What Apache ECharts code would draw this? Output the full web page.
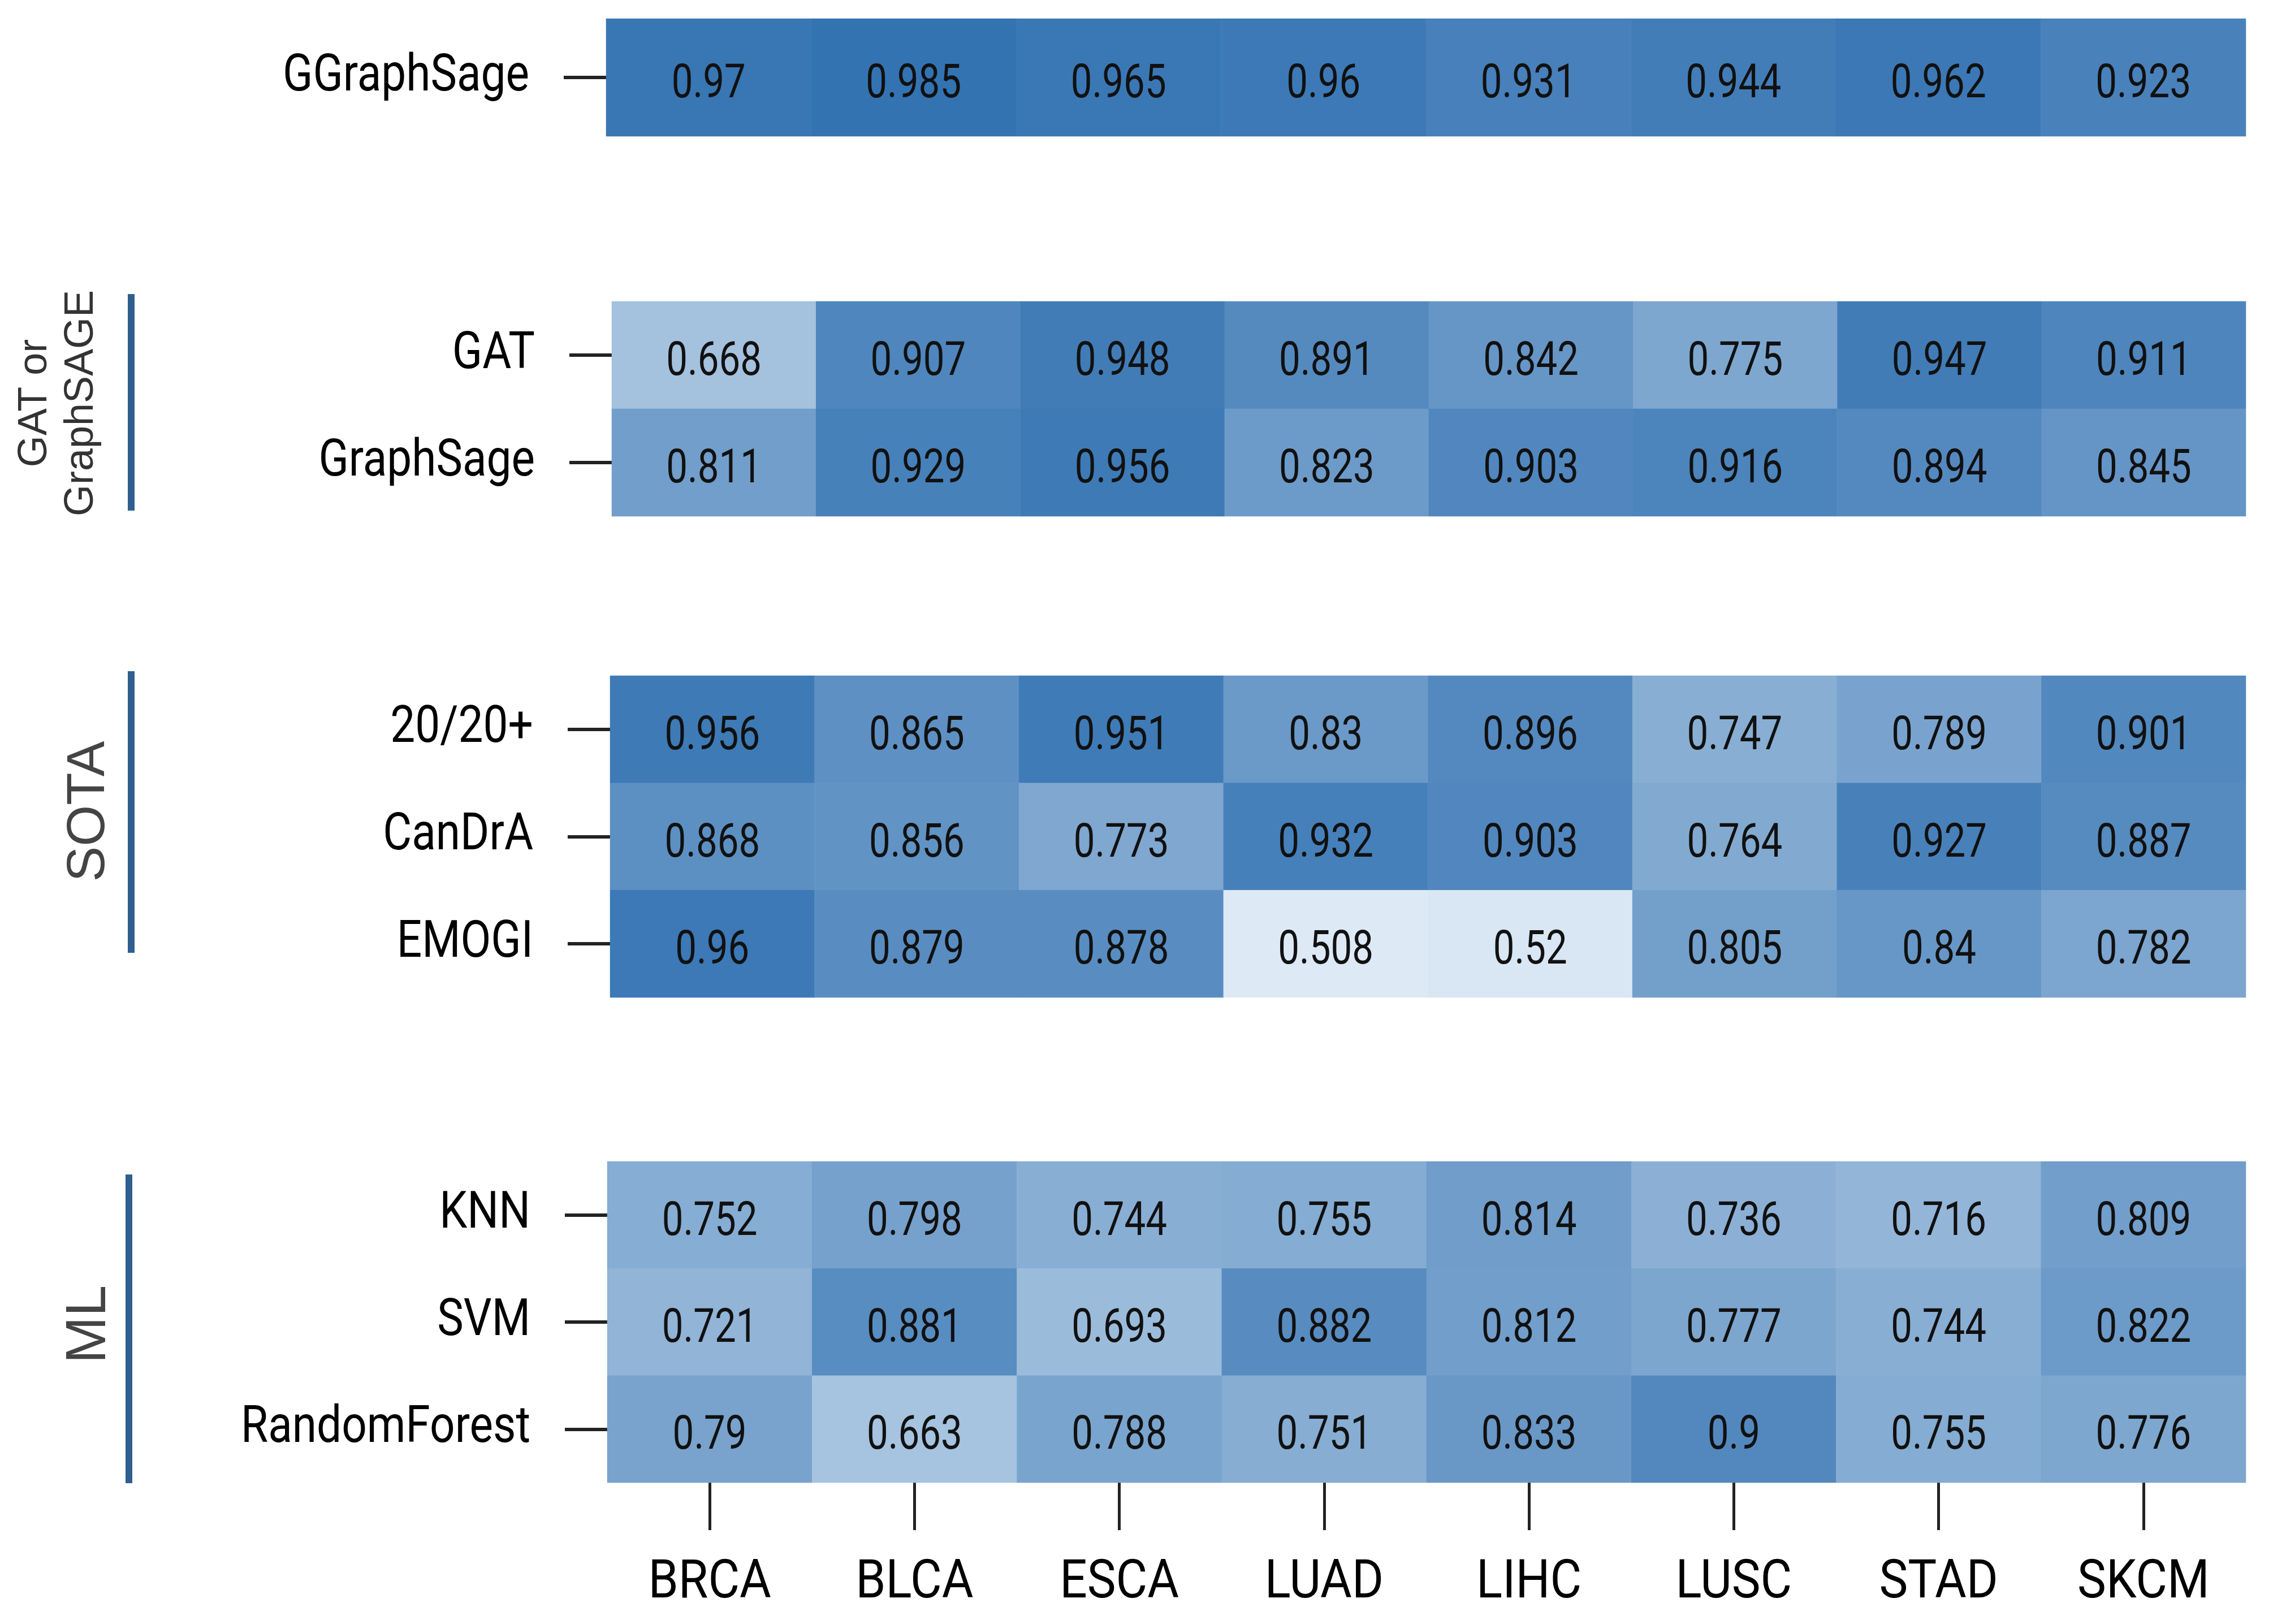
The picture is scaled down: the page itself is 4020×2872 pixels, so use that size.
<!DOCTYPE html>
<html>
<head>
<meta charset="utf-8">
<script src="https://cdn.jsdelivr.net/npm/echarts@6/dist/echarts.min.js"></script>
<style>
html,body{margin:0;padding:0;background:#fff;}
#chart{width:4020px;height:2872px;}
</style>
</head>
<body>
<div id="chart"></div>
<script>
// ---- data ----
var cancers = ['BRCA','BLCA','ESCA','LUAD','LIHC','LUSC','STAD','SKCM'];

var groupOursRows = ['GGraphSage'];
var groupGnnRows = ['GAT','GraphSage'];
var groupSotaRows = ['20/20+','CanDrA','EMOGI'];
var groupMlRows = ['KNN','SVM','RandomForest'];

var GGraphSage   = [0.97, 0.985, 0.965, 0.96, 0.931, 0.944, 0.962, 0.923];
var GAT          = [0.668, 0.907, 0.948, 0.891, 0.842, 0.775, 0.947, 0.911];
var GraphSage    = [0.811, 0.929, 0.956, 0.823, 0.903, 0.916, 0.894, 0.845];
var Plus2020     = [0.956, 0.865, 0.951, 0.83, 0.896, 0.747, 0.789, 0.901];
var CanDrA       = [0.868, 0.856, 0.773, 0.932, 0.903, 0.764, 0.927, 0.887];
var EMOGI        = [0.96, 0.879, 0.878, 0.508, 0.52, 0.805, 0.84, 0.782];
var KNN          = [0.752, 0.798, 0.744, 0.755, 0.814, 0.736, 0.716, 0.809];
var SVM          = [0.721, 0.881, 0.693, 0.882, 0.812, 0.777, 0.744, 0.822];
var RandomForest = [0.79, 0.663, 0.788, 0.751, 0.833, 0.9, 0.755, 0.776];

var groups = [
  {rows: groupOursRows, values: [GGraphSage]},
  {rows: groupGnnRows, values: [GAT, GraphSage]},
  {rows: groupSotaRows, values: [Plus2020, CanDrA, EMOGI]},
  {rows: groupMlRows, values: [KNN, SVM, RandomForest]}
];

// ---- layout ----
var FONT = "Roboto, 'Liberation Sans', sans-serif";
var gridBoxes = [
  {left: 1072, top: 33, height: 208},
  {left: 1082, top: 533, height: 380},
  {left: 1079, top: 1195, height: 569},
  {left: 1074, top: 2054, height: 568}
];

var grids = [], xAxes = [], yAxes = [], series = [], heatIdx = [];

function narrowText(x, y, txt, size, sx, align, valign, fill) {
  return {
    type: 'text', x: x, y: y, scaleX: sx, z2: 10,
    style: {text: txt, fontSize: size, fontFamily: FONT, fill: fill || '#000',
      align: align, verticalAlign: valign}
  };
}

groups.forEach(function (g, gi) {
  var b = gridBoxes[gi];
  grids.push({left: b.left, right: 48, top: b.top, height: b.height, containLabel: false});
  var isLast = gi === groups.length - 1;
  xAxes.push({
    type: 'category', gridIndex: gi, data: cancers, show: isLast,
    axisLine: {show: false},
    axisTick: {show: true, length: 84, alignWithLabel: true, lineStyle: {color: '#222', width: 5}},
    axisLabel: {show: false},
    splitLine: {show: false}
  });
  yAxes.push({
    type: 'category', gridIndex: gi, data: g.rows, inverse: true,
    axisLine: {show: false},
    axisTick: {show: true, length: 75, alignWithLabel: true, lineStyle: {color: '#222', width: 6}},
    axisLabel: {show: false},
    splitLine: {show: false}
  });
  var data = [];
  g.values.forEach(function (arr, ri) {
    arr.forEach(function (v, ci) { data.push([ci, ri, v]); });
  });
  heatIdx.push(series.length);
  series.push({
    type: 'heatmap', xAxisIndex: gi, yAxisIndex: gi, data: data,
    itemStyle: {borderWidth: 0},
    label: {show: false},
    emphasis: {disabled: true}
  });
  // cell value labels (narrow text)
  series.push({
    type: 'custom', xAxisIndex: gi, yAxisIndex: gi, data: data, z: 5, silent: true,
    encode: {x: 0, y: 1},
    renderItem: function (params, api) {
      var p = api.coord([api.value(0), api.value(1)]);
      return narrowText(p[0], p[1] + 14, String(api.value(2)), 84, 0.8, 'center', 'middle', '#111');
    }
  });
  // row labels
  var rowData = g.rows.map(function (r, ri) { return [0, ri]; });
  series.push({
    type: 'custom', xAxisIndex: gi, yAxisIndex: gi, data: rowData, z: 5, silent: true,
    encode: {x: 0, y: 1},
    renderItem: (function (rows) {
      return function (params, api) {
        var ri = api.value(1);
        var p = api.coord([0, ri]);
        var w = api.size([1, 0])[0];
        return narrowText(p[0] - w / 2 - 136, p[1], rows[ri], 90, 0.87, 'right', 'middle', '#000');
      };
    })(g.rows)
  });
  if (isLast) {
    var colData = cancers.map(function (c, ci) { return [ci, g.rows.length - 1]; });
    series.push({
      type: 'custom', xAxisIndex: gi, yAxisIndex: gi, data: colData, z: 5, silent: true,
      encode: {x: 0, y: 1},
      renderItem: function (params, api) {
        var ci = api.value(0);
        var p = api.coord([ci, api.value(1)]);
        var h = api.size([0, 1])[1];
        return narrowText(p[0], p[1] + h / 2 + 132, cancers[ci], 94, 0.91, 'center', 'top', '#000');
      }
    });
  }
});

var chart = echarts.init(document.getElementById('chart'), null, {renderer: 'canvas'});
chart.setOption({
  backgroundColor: '#ffffff',
  animation: false,
  grid: grids,
  xAxis: xAxes,
  yAxis: yAxes,
  visualMap: {
    show: false, type: 'continuous', min: 0.5, max: 1.0, dimension: 2,
    seriesIndex: heatIdx,
    inRange: {color: ['#e0ebf6', '#2e6fb0']}
  },
  series: series,
  graphic: [
    {type: 'rect', shape: {x: 226, y: 520, width: 12, height: 383}, style: {fill: '#2f5f8f'}},
    {type: 'rect', shape: {x: 226, y: 1187, width: 12, height: 498}, style: {fill: '#2f5f8f'}},
    {type: 'rect', shape: {x: 222, y: 2077, width: 12, height: 546}, style: {fill: '#2f5f8f'}},
    {type: 'text', x: 103, y: 713, rotation: Math.PI / 2,
      style: {text: 'GAT or\nGraphSAGE', fontSize: 72, fontFamily: "'Liberation Sans', Arial, sans-serif",
        fill: '#333', align: 'center', verticalAlign: 'middle', lineHeight: 82}},
    {type: 'text', x: 158, y: 1435, rotation: Math.PI / 2,
      style: {text: 'SOTA', fontSize: 94, fontFamily: "'Liberation Sans', Arial, sans-serif",
        fill: '#444', align: 'center', verticalAlign: 'middle'}},
    {type: 'text', x: 158, y: 2342, rotation: Math.PI / 2,
      style: {text: 'ML', fontSize: 100, fontFamily: "'Liberation Sans', Arial, sans-serif",
        fill: '#444', align: 'center', verticalAlign: 'middle'}}
  ]
});
</script>
</body>
</html>
